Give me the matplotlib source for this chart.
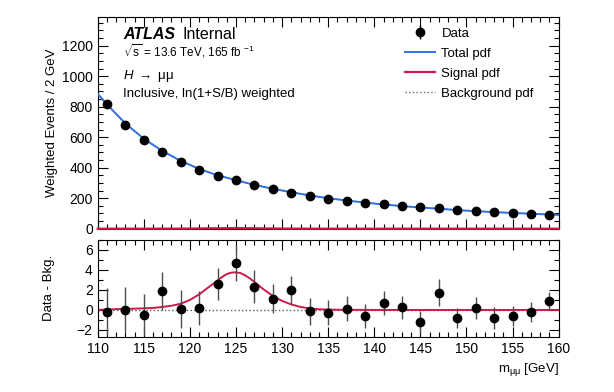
import numpy as np
import matplotlib
matplotlib.use('Agg')
import matplotlib.pyplot as plt
from matplotlib.ticker import MultipleLocator

plt.rcParams['font.family'] = ['Liberation Sans', 'DejaVu Sans']
plt.rcParams['mathtext.fontset'] = 'custom'
plt.rcParams['mathtext.rm'] = 'Liberation Sans'
plt.rcParams['mathtext.it'] = 'Liberation Sans:italic'

# bin centres (2 GeV bins)
mass = [111, 113, 115, 117, 119, 121, 123, 125, 127, 129, 131, 133, 135,
        137, 139, 141, 143, 145, 147, 149, 151, 153, 155, 157, 159]
weighted_events = [815, 680, 582, 505, 438, 388, 348, 318, 288, 259, 237, 216, 196,
                   183, 170, 161, 146, 139, 133, 120, 116, 109, 103, 98, 92]
event_err = [9, 8, 8, 7, 7, 6, 6, 6, 6, 5, 5, 5, 5,
             5, 4, 4, 4, 4, 4, 4, 4, 3, 3, 3, 3]

# data - background
diff = [-0.17, 0.0, -0.5, 1.93, 0.07, 0.2, 2.6, 4.73, 2.33, 1.1, 2.0, -0.15, -0.27,
        0.13, -0.63, 0.73, 0.27, -1.23, 1.73, -0.83, 0.2, -0.83, -0.57, -0.23, 0.87]
diff_err = [2.35, 2.25, 2.05, 1.9, 1.9, 1.7, 1.6, 1.8, 1.65, 1.45, 1.4, 1.35, 1.25,
            1.25, 1.2, 1.2, 1.15, 1.15, 1.35, 1.0, 1.1, 1.1, 1.0, 1.0, 0.9]

# pdf curves
pdf_x = [110, 111, 113, 115, 117, 119, 121, 123, 125, 127, 129, 131, 133, 135,
         137, 139, 141, 143, 145, 147, 149, 151, 153, 155, 157, 159, 160]
total_pdf = [885, 815, 690, 590, 510, 445, 392, 350, 318, 287, 262, 239, 218, 200,
             185, 171, 159, 148, 139, 131, 122, 115, 109, 103, 98, 93, 90]

sig_x = [110, 112, 114, 116, 117, 118, 119, 120, 121, 122, 123, 123.5, 124, 124.5,
         125, 125.5, 126, 126.5, 127, 128, 129, 130, 131, 132, 133, 134, 136, 140, 160]
sig_pdf = [0.0, 0.08, 0.13, 0.2, 0.3, 0.42, 0.62, 1.0, 1.55, 2.25, 2.95, 3.3, 3.58, 3.73,
           3.76, 3.68, 3.45, 3.15, 2.8, 2.05, 1.4, 0.9, 0.55, 0.3, 0.15, 0.07, 0.02, 0.0, 0.0]

blue = '#2f72e3'
red = '#cc1a4a'

fig = plt.figure(figsize=(6.14, 3.92), dpi=100)
ax = fig.add_axes([0.1591, 0.4166, 0.7508, 0.5408])
axr = fig.add_axes([0.1591, 0.1411, 0.7508, 0.2470])

# top panel
ax.plot(pdf_x, total_pdf, ':', color='0.4', lw=1.0, label='Background pdf', zorder=2)
ax.plot(pdf_x, total_pdf, '-', color=blue, lw=1.4, label='Total pdf', zorder=3)
ax.plot(sig_x, sig_pdf, '-', color=red, lw=1.6, label='Signal pdf', zorder=3, clip_on=False)
ax.errorbar(mass, weighted_events, yerr=event_err, fmt='o', color='black', ms=6,
            elinewidth=1.0, capsize=0, label='Data', zorder=4)
ax.set_xlim(110, 160)
ax.set_ylim(0, 1390)
ax.set_ylabel('Weighted Events / 2 GeV', fontsize=9.5, labelpad=3)
ax.yaxis.set_major_locator(MultipleLocator(200))
ax.yaxis.set_minor_locator(MultipleLocator(50))
ax.xaxis.set_major_locator(MultipleLocator(5))
ax.xaxis.set_minor_locator(MultipleLocator(1))
ax.tick_params(labelbottom=False)

handles, labels = ax.get_legend_handles_labels()
order = [labels.index(l) for l in ['Data', 'Total pdf', 'Signal pdf', 'Background pdf']]
ax.legend([handles[i] for i in order], [labels[i] for i in order], loc='upper right',
          bbox_to_anchor=(0.965, 0.99), frameon=False, fontsize=9.5, handlelength=2.3,
          labelspacing=0.6, handletextpad=0.5, borderaxespad=0.25)

ax.text(0.055, 0.896, 'ATLAS', transform=ax.transAxes, fontsize=11.5,
        fontweight='bold', style='italic')
ax.text(0.183, 0.896, 'Internal', transform=ax.transAxes, fontsize=11.5)
ax.text(0.055, 0.811, r'$\sqrt{\rm s}$ = 13.6 TeV, 165 fb $^{-1}$', transform=ax.transAxes, fontsize=8.5)
ax.text(0.055, 0.708, r'$H$ $\rightarrow$ μμ', transform=ax.transAxes, fontsize=9.5)
ax.text(0.055, 0.623, 'Inclusive, ln(1+S/B) weighted', transform=ax.transAxes, fontsize=9.5)

# ratio panel
axr.axhline(0, ls=':', color='0.35', lw=1.0, zorder=1)
axr.plot(sig_x, sig_pdf, '-', color=red, lw=1.4, zorder=2)
axr.errorbar(mass, diff, yerr=diff_err, fmt='o', color='black', ms=6,
             elinewidth=1.0, ecolor='0.3', capsize=0, zorder=3)
axr.set_xlim(110, 160)
axr.set_ylim(-2.67, 7)
axr.set_ylabel('Data - Bkg.', fontsize=9.5, labelpad=16)
axr.set_xlabel('m$_{\\rm μμ}$ [GeV]', fontsize=9.5, loc='right')
axr.yaxis.set_major_locator(MultipleLocator(2))
axr.yaxis.set_minor_locator(MultipleLocator(1))
axr.xaxis.set_major_locator(MultipleLocator(5))
axr.xaxis.set_minor_locator(MultipleLocator(1))

for a in (ax, axr):
    a.tick_params(which='both', direction='in', top=True, right=True, labelsize=10)
    a.tick_params(which='major', length=7, width=0.8)
    a.tick_params(which='minor', length=3.5, width=0.8)
    for s in a.spines.values():
        s.set_linewidth(0.8)

fig.savefig('out.png', dpi=100)
